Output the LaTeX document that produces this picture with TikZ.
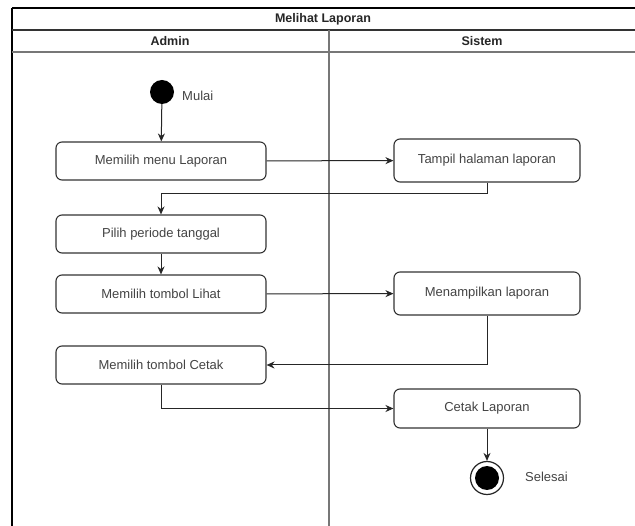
\documentclass[tikz,border=0pt]{standalone}
\usepackage{fontspec}
\setmainfont{Liberation Sans}
\usetikzlibrary{arrows.meta}
\definecolor{ink}{HTML}{333333}
\definecolor{txt}{HTML}{444444}
\definecolor{lane}{HTML}{777777}
\begin{document}
\begin{tikzpicture}[x=1pt,y=-1pt,
  action/.style={draw=ink,line width=1.1pt,rounded corners=6pt,fill=white,
    minimum width=210pt,minimum height=38pt,inner sep=0pt,
    font=\fontsize{13}{15}\selectfont,text=txt},
  sysaction/.style={action,minimum width=186pt,minimum height=43pt},
  flow/.style={draw=black!85,line width=1pt,-{Stealth[length=8pt,width=7pt]}},
  lbl/.style={font=\fontsize{13}{15}\selectfont,text=txt,inner sep=0pt},
  hdr/.style={font=\fontsize{12.5}{14}\selectfont\bfseries,text=black!85,inner sep=0pt}]
  \useasboundingbox (0,0) rectangle (635,526);
  \fill[white] (0,0) rectangle (635,526);

  % swimlane frame
  \draw[line width=1.4pt,black] (12,8) -- (635,8);
  \draw[line width=1.4pt,black] (12,8) -- (12,526);
  \draw[line width=1.2pt,black!80] (12,30) -- (635,30);
  \draw[line width=1.8pt,lane] (12,52) -- (635,52);
  \draw[line width=1.8pt,lane] (329,30) -- (329,526);

  \node[hdr] (title) at (323,19) {Melihat Laporan};
  \node[hdr] (admin) at (170,41) {Admin};
  \node[hdr] (sistem) at (482,41) {Sistem};

  % start
  \node[circle,fill=black,minimum size=24pt,inner sep=0pt] (start) at (162,92) {};
  \node[lbl,anchor=west] (mulai) at (182,96) {Mulai};

  % actions
  \node[action] (menu) at (161,161) {Memilih menu Laporan};
  \node[sysaction] (tampil) at (487,160.5) {Tampil halaman laporan};
  \node[action] (periode) at (161,234) {Pilih periode tanggal};
  \node[action] (lihat) at (161,294) {Memilih tombol Lihat};
  \node[sysaction] (menampilkan) at (487,293.5) {Menampilkan laporan};
  \node[action] (cetak) at (161,365) {Memilih tombol Cetak};
  \node[sysaction,minimum height=39pt] (cetaklap) at (487,408.5) {Cetak Laporan};

  % end
  \node[circle,draw=black!85,line width=1.2pt,fill=white,minimum size=33pt,inner sep=0pt] (end) at (487,478) {};
  \node[circle,fill=black,minimum size=24pt,inner sep=0pt] (endin) at (end) {};
  \node[lbl,anchor=west] (selesai) at (525,477) {Selesai};

  % flows
  \draw[flow] (start) -- (menu);
  \draw[flow] (menu) -- (tampil);
  \draw[flow] (tampil.south) -- ++(0,11) -| (periode.north);
  \draw[flow] (periode) -- (lihat);
  \draw[flow] (lihat) -- (menampilkan);
  \draw[flow] (menampilkan.south) |- (cetak.east);
  \draw[flow] (cetak.south) |- (cetaklap.west);
  \draw[flow] (cetaklap) -- (end);
\end{tikzpicture}
\end{document}
